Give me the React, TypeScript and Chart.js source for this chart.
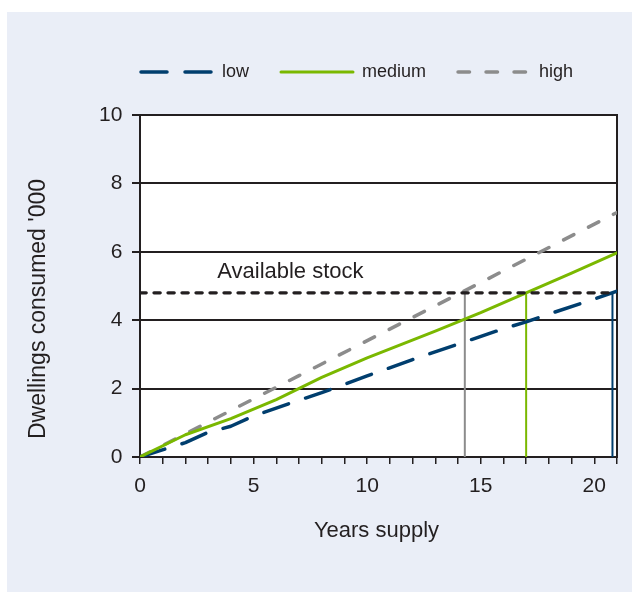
import React, { useEffect, useRef } from 'react';
import { Chart, registerables } from 'chart.js';

Chart.register(...registerables);

// ---- data ----
const seriesNames = ['low', 'medium', 'high'];
const lowYears = [0, 2, 3, 4, 5, 7, 8, 10, 12, 14, 16, 17, 18, 20, 21];
const lowValues = [0, 0.42, 0.72, 0.9, 1.2, 1.66, 1.88, 2.37, 2.85, 3.3, 3.75, 3.95, 4.18, 4.62, 4.85];
const mediumYears = [0, 2, 4, 6, 8, 10, 13, 15, 17, 19, 21];
const mediumValues = [0, 0.65, 1.12, 1.68, 2.33, 2.9, 3.68, 4.22, 4.8, 5.38, 5.97];
const highYears = [0, 7, 14, 21];
const highValues = [0, 2.38, 4.76, 7.15];
const availableStock = 4.8;
const stockLabel = 'Available stock';
const stockLabelYear = 3.4;
const highExhaustYear = 14.3;
const mediumExhaustYear = 17.0;
const lowExhaustYear = 20.8;
const xTickLabels = [0, 5, 10, 15, 20];
const yTitle = "Dwellings consumed '000";
const xTitle = 'Years supply';

const FONT = "'Liberation Sans', Arial, Helvetica, sans-serif";
const INK = '#231F20';
const LOW_C = '#003E6E';
const MED_C = '#7AB800';
const HIGH_C = '#8C8C8C';
const PANEL = '#EAEEF7';

const toPts = (xs: number[], ys: number[]) => xs.map((x, i) => ({ x, y: ys[i] }));

const decorPlugin = {
  id: 'decor',
  beforeDraw(chart: any) {
    const { ctx, chartArea: a } = chart;
    ctx.save();
    ctx.fillStyle = PANEL;
    ctx.fillRect(7, 12, chart.width - 7, chart.height - 12);
    ctx.fillStyle = '#FFFFFF';
    ctx.fillRect(a.left, a.top, a.right - a.left, a.bottom - a.top);
    ctx.restore();
  },
  beforeDatasetsDraw(chart: any) {
    const { ctx, chartArea: a } = chart;
    ctx.save();
    ctx.strokeStyle = INK;
    ctx.lineWidth = 2;
    ctx.strokeRect(a.left, a.top, a.right - a.left, a.bottom - a.top);
    ctx.restore();
  },
  afterDraw(chart: any) {
    const { ctx, chartArea: a, scales } = chart;
    ctx.save();
    ctx.fillStyle = INK;
    ctx.textBaseline = 'alphabetic';
    ctx.textAlign = 'left';
    ctx.font = `22px ${FONT}`;
    ctx.fillText(stockLabel, scales.x.getPixelForValue(stockLabelYear), scales.y.getPixelForValue(availableStock) - 15);
    ctx.textAlign = 'center';
    ctx.fillText(xTitle, (a.left + a.right) / 2 - 2, a.bottom + 80);
    ctx.font = `23px ${FONT}`;
    ctx.translate(a.left - 95, (a.top + a.bottom) / 2 + 23);
    ctx.rotate(-Math.PI / 2);
    ctx.fillText(yTitle, 0, 0);
    ctx.restore();
  },
};

export default function App() {
  const ref = useRef<HTMLCanvasElement | null>(null);

  useEffect(() => {
    if (!ref.current) return;
    Chart.defaults.font.family = FONT;
    Chart.defaults.color = INK;
    const baseGenerate = (Chart.defaults as any).plugins.legend.labels.generateLabels;
    const chart = new Chart(ref.current, {
      type: 'line',
      data: {
        datasets: [
          {
            label: seriesNames[0],
            data: toPts(lowYears, lowValues),
            borderColor: LOW_C,
            backgroundColor: LOW_C,
            borderWidth: 3.5,
            borderDash: [26, 18],
            borderCapStyle: 'round',
            borderJoinStyle: 'round',
            pointRadius: 0,
            tension: 0,
            order: 3,
          },
          {
            label: seriesNames[1],
            data: toPts(mediumYears, mediumValues),
            borderColor: MED_C,
            backgroundColor: MED_C,
            borderWidth: 3,
            borderDash: [],
            borderCapStyle: 'round',
            borderJoinStyle: 'round',
            pointRadius: 0,
            tension: 0,
            order: 2,
          },
          {
            label: seriesNames[2],
            data: toPts(highYears, highValues),
            borderColor: HIGH_C,
            backgroundColor: HIGH_C,
            borderWidth: 3.5,
            borderDash: [11.5, 16.5],
            borderCapStyle: 'round',
            borderJoinStyle: 'round',
            pointRadius: 0,
            tension: 0,
            order: 4,
          },
          {
            label: 'stock',
            data: [{ x: 0, y: availableStock }, { x: lowExhaustYear, y: availableStock }],
            borderColor: INK,
            borderWidth: 3.3,
            borderDash: [6.2, 7.8],
            borderCapStyle: 'round',
            pointRadius: 0,
            order: 1,
          },
          {
            label: 'highX',
            data: [{ x: highExhaustYear, y: 0 }, { x: highExhaustYear, y: availableStock }],
            borderColor: HIGH_C,
            borderWidth: 2,
            pointRadius: 0,
            order: 5,
          },
          {
            label: 'mediumX',
            data: [{ x: mediumExhaustYear, y: 0 }, { x: mediumExhaustYear, y: availableStock }],
            borderColor: MED_C,
            borderWidth: 2,
            pointRadius: 0,
            order: 5,
          },
          {
            label: 'lowX',
            data: [{ x: lowExhaustYear, y: 0 }, { x: lowExhaustYear, y: availableStock }],
            borderColor: LOW_C,
            borderWidth: 2,
            pointRadius: 0,
            order: 5,
          },
        ],
      },
      options: {
        responsive: false,
        animation: false,
        events: [],
        layout: { padding: { left: 109, right: 15, top: 31, bottom: 0 } },
        plugins: {
          tooltip: { enabled: false },
          title: { display: true, text: '', position: 'top', weight: 500, padding: 0, font: { size: 20, lineHeight: 1.2 } },
          legend: {
            display: true,
            position: 'top',
            align: 'start',
            labels: {
              usePointStyle: true,
              pointStyle: 'line',
              pointStyleWidth: 72,
              boxWidth: 72,
              padding: 32,
              color: INK,
              font: { size: 18, family: FONT },
              generateLabels: (c: any) => {
                const items = baseGenerate(c);
                items.forEach((it: any) => {
                  const ds = c.data.datasets[it.datasetIndex];
                  it.lineDash = ds.borderDash || [];
                  it.lineCap = ds.borderCapStyle || 'butt';
                  it.lineWidth = ds.borderWidth;
                  it.strokeStyle = ds.borderColor;
                  it.fillStyle = ds.borderColor;
                });
                return items;
              },
              filter: (item: any) => item.datasetIndex < 3,
              sort: (a: any, b: any) => a.datasetIndex - b.datasetIndex,
            },
          },
        },
        scales: {
          x: {
            type: 'linear',
            min: 0,
            max: 21,
            afterFit: (s: any) => { s.height = 135; },
            border: { display: false },
            grid: { drawOnChartArea: false, drawTicks: true, tickLength: 7, color: INK, lineWidth: 1.5 },
            ticks: {
              stepSize: 1,
              autoSkip: false,
              maxRotation: 0,
              padding: 10,
              color: INK,
              font: { size: 21, family: FONT },
              callback: (v: any) => (xTickLabels.includes(Number(v)) ? String(v) : ''),
            },
          },
          y: {
            type: 'linear',
            min: 0,
            max: 10,
            afterFit: (s: any) => { s.width = 31; },
            border: { display: false },
            grid: { color: INK, lineWidth: 2, tickLength: 8 },
            ticks: {
              stepSize: 2,
              mirror: true,
              crossAlign: 'far',
              padding: -41,
              color: INK,
              font: { size: 21, family: FONT },
            },
          },
        },
      } as any,
      plugins: [decorPlugin],
    });
    return () => chart.destroy();
  }, []);

  return (
    <div style={{ position: 'absolute', left: 0, top: 0, width: 632, height: 592 }}>
      <canvas ref={ref} width={632} height={592} style={{ display: 'block', width: 632, height: 592 }} />
    </div>
  );
}
